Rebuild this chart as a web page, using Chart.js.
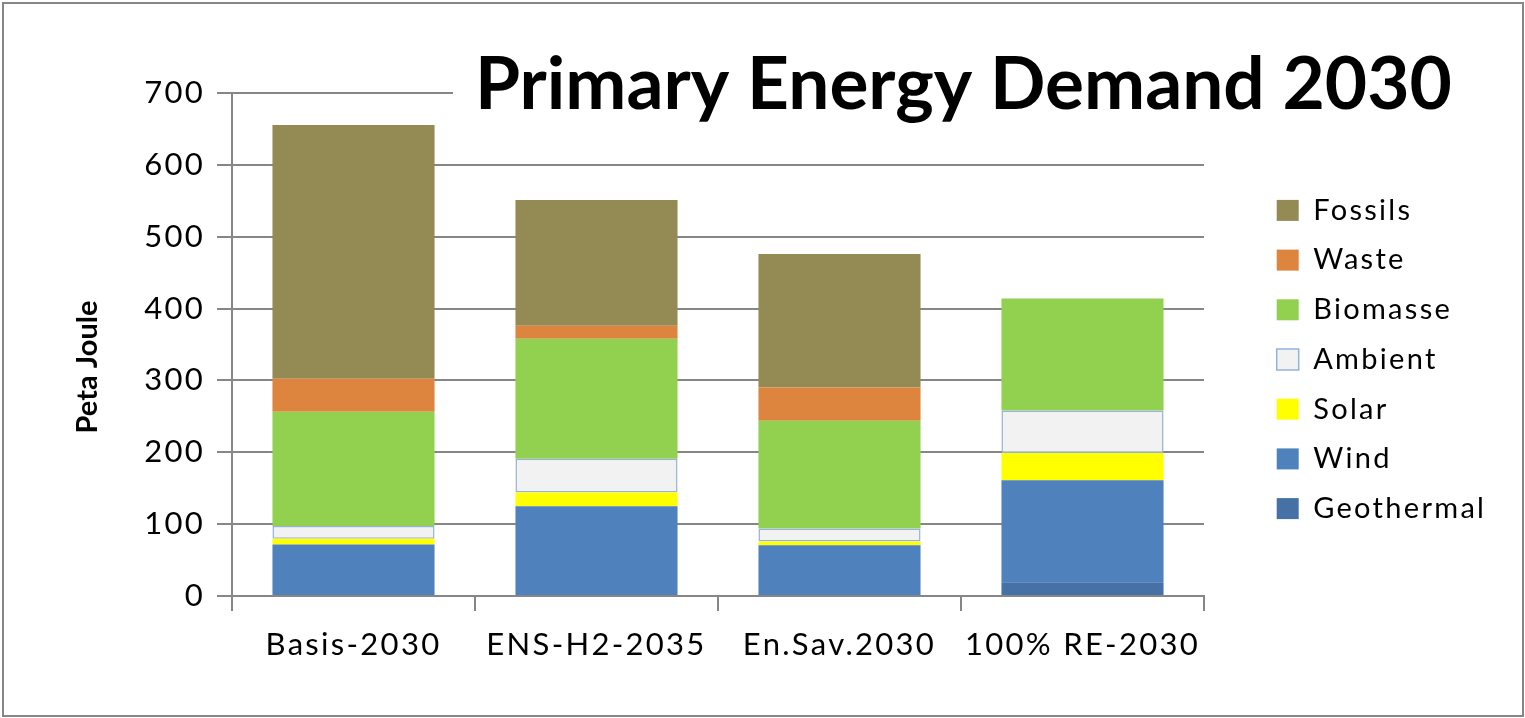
<!DOCTYPE html>
<html>
<head>
<meta charset="utf-8">
<script src="https://cdn.jsdelivr.net/npm/chart.js@4/dist/chart.umd.min.js"></script>
<style>
  html, body { margin: 0; padding: 0; background: #ffffff; }
  #wrap { width: 1525px; height: 718px; }
</style>
</head>
<body>
<div id="wrap"><canvas id="c" width="1525" height="718"></canvas></div>
<script>
const categories = ["Basis-2030", "ENS-H2-2035", "En.Sav.2030", "100% RE-2030"];
const geothermal = [0, 0, 0, 19];
const wind       = [71.5, 125, 70.5, 142];
const solar      = [8, 19, 5.5, 38];
const ambient    = [18, 47, 18, 59];
const biomasse   = [159, 167, 150, 156];
const waste      = [46, 18, 46, 0];
const fossils    = [353, 175, 186, 0];
const yTicks     = [0, 100, 200, 300, 400, 500, 600, 700];
const titleText  = "Primary Energy Demand 2030";
const yTitleText = "Peta Joule";

const FONT = "Lato, 'Open Sans', sans-serif";
const GRID = "#868686";

function setSpacing(chart) { chart.ctx.letterSpacing = "2.3px"; }

const decorPlugin = {
  id: "decor",
  beforeUpdate(chart) { setSpacing(chart); },
  beforeLayout(chart) { setSpacing(chart); },
  beforeDraw(chart) {
    const ctx = chart.ctx;
    ctx.save();
    ctx.fillStyle = "#ffffff";
    ctx.fillRect(0, 0, chart.width, chart.height);
    ctx.strokeStyle = GRID;
    ctx.lineWidth = 2;
    ctx.strokeRect(3, 3, chart.width - 5, chart.height - 5);
    ctx.restore();
    setSpacing(chart);
  },
  afterDraw(chart) {
    const ctx = chart.ctx;
    ctx.save();
    ctx.letterSpacing = "0px";
    // title drawn over the plot with a white background
    ctx.fillStyle = "#ffffff";
    ctx.fillRect(453, 40, 1016, 92);
    let size = 100;
    ctx.font = "bold " + size + "px " + FONT;
    const w = ctx.measureText(titleText).width;
    size = size * 977 / w;
    ctx.font = "bold " + size + "px " + FONT;
    ctx.fillStyle = "#000000";
    ctx.textAlign = "left";
    ctx.textBaseline = "alphabetic";
    ctx.fillText(titleText, 475, 109);
    // y axis title
    ctx.font = "bold 29px " + FONT;
    ctx.translate(97, 367);
    ctx.rotate(-Math.PI / 2);
    ctx.textAlign = "center";
    ctx.textBaseline = "alphabetic";
    ctx.fillText(yTitleText, 0, 0);
    ctx.restore();
  }
};

const ds = (label, data, color, extra) => Object.assign({
  label, data, backgroundColor: color, borderWidth: 0, borderSkipped: false,
  barPercentage: 0.667, categoryPercentage: 1.0
}, extra || {});

new Chart(document.getElementById("c"), {
  type: "bar",
  data: {
    labels: categories,
    datasets: [
      ds("Geothermal", geothermal, "#4671A7"),
      ds("Wind", wind, "#4F81BD"),
      ds("Solar", solar, "#FFFF00"),
      ds("Ambient", ambient, "#F2F2F2", { borderColor: "#95B3D7", borderWidth: 1.5 }),
      ds("Biomasse", biomasse, "#92D050"),
      ds("Waste", waste, "#DD843E"),
      ds("Fossils", fossils, "#948A54")
    ]
  },
  options: {
    responsive: false,
    animation: false,
    devicePixelRatio: 1,
    layout: { padding: { top: 43, bottom: 42, left: 0, right: 29 } },
    plugins: {
      title: { display: true, text: " ", font: { size: 10 }, padding: { top: 0, bottom: 38 } },
      tooltip: { enabled: false },
      legend: {
        display: true,
        position: "right",
        reverse: true,
        maxWidth: 240,
        labels: {
          boxWidth: 22,
          boxHeight: 21,
          padding: 20.7,
          color: "#000000",
          font: { family: FONT, size: 29 }
        }
      }
    },
    scales: {
      x: {
        stacked: true,
        grid: { display: true, drawOnChartArea: false, drawTicks: true, offset: true, tickLength: 15, color: GRID, lineWidth: 2 },
        border: { display: true, color: GRID, width: 2 },
        ticks: { color: "#000000", padding: 15, font: { family: FONT, size: 31 }, maxRotation: 0, autoSkip: false },
        afterFit(s) { s.height = 80; }
      },
      y: {
        stacked: true,
        min: 0, max: 700,
        afterBuildTicks(s) { s.ticks = yTicks.map(v => ({ value: v })); },
        grid: { color: GRID, lineWidth: 2, tickLength: 15 },
        border: { display: true, color: GRID, width: 2 },
        ticks: { color: "#000000", padding: 12, font: { family: FONT, size: 31 } },
        afterFit(s) { s.width = 232; }
      },
      y2: {
        position: "right",
        display: true,
        grid: { display: false, drawTicks: false },
        border: { display: false },
        ticks: { display: false },
        afterFit(s) { s.width = 52; }
      }
    }
  },
  plugins: [decorPlugin]
});
</script>
</body>
</html>
